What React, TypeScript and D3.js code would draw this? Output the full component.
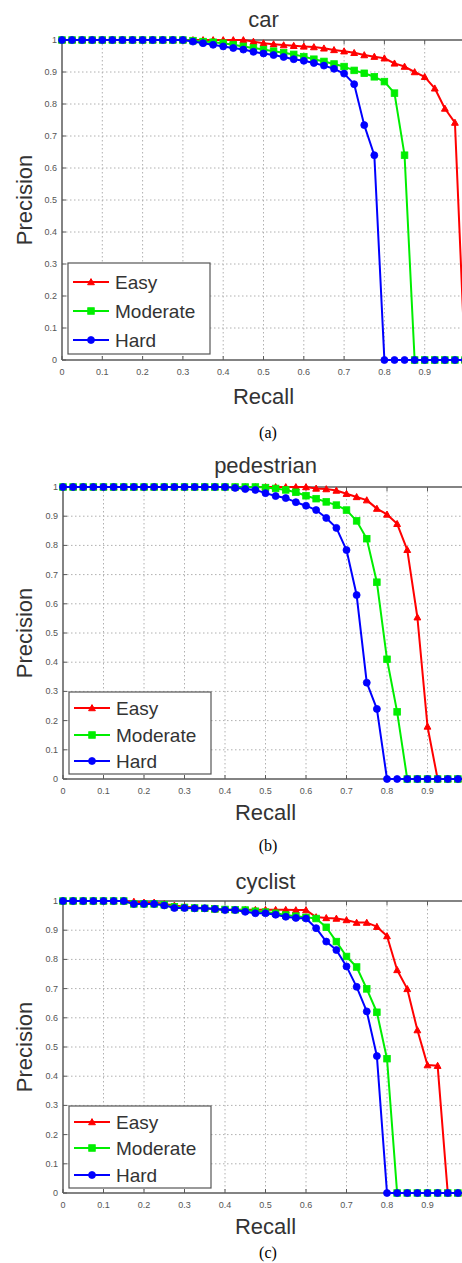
import React from 'react';
import * as d3 from 'd3';

// recall sample points (41-point interpolation)
const recall = [
  0, 0.025, 0.05, 0.075, 0.1, 0.125, 0.15, 0.175, 0.2, 0.225,
  0.25, 0.275, 0.3, 0.325, 0.35, 0.375, 0.4, 0.425, 0.45, 0.475,
  0.5, 0.525, 0.55, 0.575, 0.6, 0.625, 0.65, 0.675, 0.7, 0.725,
  0.75, 0.775, 0.8, 0.825, 0.85, 0.875, 0.9, 0.925, 0.95, 0.975, 1,
];

const xTicks = [0, 0.1, 0.2, 0.3, 0.4, 0.5, 0.6, 0.7, 0.8, 0.9, 1];
const xTickLabels = ['0', '0.1', '0.2', '0.3', '0.4', '0.5', '0.6', '0.7', '0.8', '0.9'];
const yTicks = [0, 0.1, 0.2, 0.3, 0.4, 0.5, 0.6, 0.7, 0.8, 0.9, 1];
const levels = ['Easy', 'Moderate', 'Hard'];

const carEasy = [
  1, 1, 1, 1, 1, 1, 1, 1, 1, 1, 1, 1, 1, 1, 1, 1, 1, 1, 1,
  0.995, 0.99, 0.987, 0.984, 0.982, 0.98, 0.978, 0.974, 0.969, 0.965, 0.96,
  0.953, 0.948, 0.943, 0.927, 0.917, 0.9, 0.885, 0.849, 0.786, 0.742, 0,
];
const carModerate = [
  1, 1, 1, 1, 1, 1, 1, 1, 1, 1, 1, 1, 1,
  0.998, 0.995, 0.993, 0.99, 0.985, 0.98, 0.975, 0.97, 0.965, 0.96, 0.955,
  0.948, 0.94, 0.933, 0.925, 0.917, 0.905, 0.896, 0.885, 0.87, 0.834, 0.64,
  0, 0, 0, 0, 0, 0,
];
const carHard = [
  1, 1, 1, 1, 1, 1, 1, 1, 1, 1, 1, 1, 1,
  0.995, 0.99, 0.985, 0.98, 0.975, 0.97, 0.963, 0.958, 0.953, 0.947, 0.94,
  0.935, 0.928, 0.92, 0.91, 0.895, 0.862, 0.734, 0.64,
  0, 0, 0, 0, 0, 0, 0, 0, 0,
];

const pedEasy = [
  1, 1, 1, 1, 1, 1, 1, 1, 1, 1, 1, 1, 1, 1, 1, 1, 1, 1, 1, 1, 1, 1, 1, 1, 1,
  0.995, 0.993, 0.988, 0.977, 0.966, 0.955, 0.926, 0.906, 0.874, 0.785, 0.554, 0.18,
  0, 0, 0, 0,
];
const pedModerate = [
  1, 1, 1, 1, 1, 1, 1, 1, 1, 1, 1, 1, 1, 1, 1, 1, 1, 1, 1, 1,
  0.998, 0.995, 0.99, 0.982, 0.97, 0.96, 0.949, 0.938, 0.921, 0.884, 0.823, 0.674,
  0.41, 0.23,
  0, 0, 0, 0, 0, 0, 0,
];
const pedHard = [
  1, 1, 1, 1, 1, 1, 1, 1, 1, 1, 1, 1, 1, 1, 1, 1, 1,
  0.997, 0.993, 0.99, 0.979, 0.969, 0.962, 0.948, 0.936, 0.921, 0.894, 0.86,
  0.784, 0.63, 0.33, 0.24,
  0, 0, 0, 0, 0, 0, 0, 0, 0,
];

const cycEasy = [
  1, 1, 1, 1, 1, 1, 1,
  0.998, 0.995, 0.995, 0.99, 0.985, 0.98, 0.978, 0.975, 0.972, 0.97, 0.97, 0.97,
  0.97, 0.97, 0.97, 0.97, 0.969, 0.969, 0.945, 0.942, 0.94, 0.935, 0.926, 0.926,
  0.912, 0.88, 0.764, 0.699, 0.558, 0.438, 0.436,
  0, 0, 0,
];
const cycModerate = [
  1, 1, 1, 1, 1, 1, 1,
  0.99, 0.99, 0.99, 0.987, 0.98, 0.978, 0.976, 0.975, 0.973, 0.971, 0.97, 0.969,
  0.965, 0.962, 0.958, 0.952, 0.948, 0.944, 0.94, 0.91, 0.861, 0.81, 0.774,
  0.699, 0.619, 0.46,
  0, 0, 0, 0, 0, 0, 0, 0,
];
const cycHard = [
  1, 1, 1, 1, 1, 1, 1,
  0.99, 0.99, 0.99, 0.985, 0.976, 0.976, 0.975, 0.975, 0.973, 0.969, 0.969, 0.963,
  0.958, 0.958, 0.953, 0.946, 0.942, 0.94, 0.907, 0.861, 0.832, 0.776, 0.706,
  0.622, 0.469,
  0, 0, 0, 0, 0, 0, 0, 0, 0,
];

const colors = ['#ff0000', '#00ee00', '#0000ff'];
const FONT = '"Liberation Sans", Arial, Helvetica, sans-serif';

interface PanelCfg {
  title: string;
  caption: string;
  series: number[][];
  left: number;
  right: number;
  top: number;
  bottom: number;
  titleY: number;
  recallY: number;
  captionY: number;
  legendTop: number;
  legendBottom: number;
  legendRows: number[];
}

const panels: PanelCfg[] = [
  {
    title: 'car', caption: '(a)', series: [carEasy, carModerate, carHard],
    left: 62, right: 465, top: 40, bottom: 360,
    titleY: 27, recallY: 404, captionY: 438,
    legendTop: 263, legendBottom: 354, legendRows: [289, 318, 347],
  },
  {
    title: 'pedestrian', caption: '(b)', series: [pedEasy, pedModerate, pedHard],
    left: 63, right: 468, top: 487, bottom: 779,
    titleY: 473, recallY: 820, captionY: 851,
    legendTop: 692, legendBottom: 774, legendRows: [715, 742, 768],
  },
  {
    title: 'cyclist', caption: '(c)', series: [cycEasy, cycModerate, cycHard],
    left: 63, right: 468, top: 901, bottom: 1193,
    titleY: 889, recallY: 1234, captionY: 1258,
    legendTop: 1106, legendBottom: 1188, legendRows: [1129, 1155, 1182],
  },
];

const Marker: React.FC<{ kind: number; x: number; y: number }> = ({ kind, x, y }) => {
  const c = colors[kind];
  if (kind === 0) {
    const s = 3.4;
    return <path d={`M${x},${y - s}L${x + s},${y + s * 0.8}L${x - s},${y + s * 0.8}Z`} fill={c} stroke={c} strokeWidth={1} />;
  }
  if (kind === 1) {
    return <rect x={x - 3.3} y={y - 3.3} width={6.6} height={6.6} fill={c} stroke={c} strokeWidth={0.8} />;
  }
  return <circle cx={x} cy={y} r={3.5} fill={c} stroke={c} strokeWidth={0.8} />;
};

const Panel: React.FC<{ cfg: PanelCfg }> = ({ cfg }) => {
  const x = d3.scaleLinear().domain([0, 1]).range([cfg.left, cfg.right]);
  const y = d3.scaleLinear().domain([0, 1]).range([cfg.bottom, cfg.top]);
  const line = d3.line<number>()
    .x((_, i) => x(recall[i]))
    .y(d => y(d));
  const cx = (cfg.left + cfg.right) / 2;
  const cy = (cfg.top + cfg.bottom) / 2;
  const axisColor = '#5a5a5a';
  const tickColor = '#555';

  return (
    <g>
      <text x={cx} y={cfg.titleY} textAnchor="middle" fontFamily={FONT} fontSize={22} fill="#333">{cfg.title}</text>

      {/* grid */}
      {xTicks.slice(1, -1).map(t => (
        <line key={'gx' + t} x1={x(t)} x2={x(t)} y1={cfg.top} y2={cfg.bottom}
          stroke="#b0b0b0" strokeWidth={1} strokeDasharray="1.5,2.5" />
      ))}
      {yTicks.slice(1, -1).map(t => (
        <line key={'gy' + t} x1={cfg.left} x2={cfg.right} y1={y(t)} y2={y(t)}
          stroke="#b0b0b0" strokeWidth={1} strokeDasharray="1.5,2.5" />
      ))}

      {/* ticks */}
      {xTicks.map(t => (
        <g key={'tx' + t}>
          <line x1={x(t)} x2={x(t)} y1={cfg.bottom} y2={cfg.bottom - 4} stroke={axisColor} />
          <line x1={x(t)} x2={x(t)} y1={cfg.top} y2={cfg.top + 4} stroke={axisColor} />
        </g>
      ))}
      {xTickLabels.map((lab, i) => (
        <text key={'lx' + lab} x={x(xTicks[i])} y={cfg.bottom + 15} textAnchor="middle" fontFamily={FONT} fontSize={9} fill={tickColor}>{lab}</text>
      ))}
      {yTicks.map(t => (
        <g key={'ty' + t}>
          <line x1={cfg.left} x2={cfg.left + 4} y1={y(t)} y2={y(t)} stroke={axisColor} />
          <text x={cfg.left - 5} y={y(t) + 3} textAnchor="end" fontFamily={FONT} fontSize={9} fill={tickColor}>{String(t)}</text>
        </g>
      ))}

      {/* axes box */}
      <line x1={cfg.left} x2={cfg.right} y1={cfg.top} y2={cfg.top} stroke={axisColor} strokeWidth={1.3} />
      <line x1={cfg.left} x2={cfg.right} y1={cfg.bottom} y2={cfg.bottom} stroke={axisColor} strokeWidth={1.5} />
      <line x1={cfg.left} x2={cfg.left} y1={cfg.top} y2={cfg.bottom} stroke={axisColor} strokeWidth={1.5} />

      {/* curves */}
      {cfg.series.map((s, k) => (
        <g key={'s' + k}>
          <path d={line(s) || ''} fill="none" stroke={colors[k]} strokeWidth={2} strokeLinejoin="round" />
          {s.map((v, i) => <Marker key={i} kind={k} x={x(recall[i])} y={y(v)} />)}
        </g>
      ))}

      {/* legend */}
      <rect x={cfg.left + 6} y={cfg.legendTop} width={142} height={cfg.legendBottom - cfg.legendTop}
        fill="#fff" stroke="#555" strokeWidth={1.2} />
      {levels.map((name, k) => {
        const ly = cfg.legendRows[k];
        return (
          <g key={name}>
            <line x1={cfg.left + 11} x2={cfg.left + 47} y1={ly - 7} y2={ly - 7} stroke={colors[k]} strokeWidth={2} />
            <Marker kind={k} x={cfg.left + 29} y={ly - 7} />
            <text x={cfg.left + 53} y={ly} fontFamily={FONT} fontSize={19} fill="#333">{name}</text>
          </g>
        );
      })}

      {/* axis labels */}
      <text x={cx} y={cfg.recallY} textAnchor="middle" fontFamily={FONT} fontSize={22} fill="#333">Recall</text>
      <text transform={`translate(32,${cy}) rotate(-90)`} textAnchor="middle" fontFamily={FONT} fontSize={22} fill="#333">Precision</text>

      <text x={268} y={cfg.captionY} textAnchor="middle" fontFamily='"Liberation Serif", "Times New Roman", serif' fontSize={16} fill="#000">{cfg.caption}</text>
    </g>
  );
};

export default function App() {
  return (
    <svg width={462} height={1263} style={{ position: 'absolute', left: 0, top: 0, background: '#fff' }}>
      <rect width={462} height={1263} fill="#fff" />
      {panels.map(p => <Panel key={p.title} cfg={p} />)}
    </svg>
  );
}
